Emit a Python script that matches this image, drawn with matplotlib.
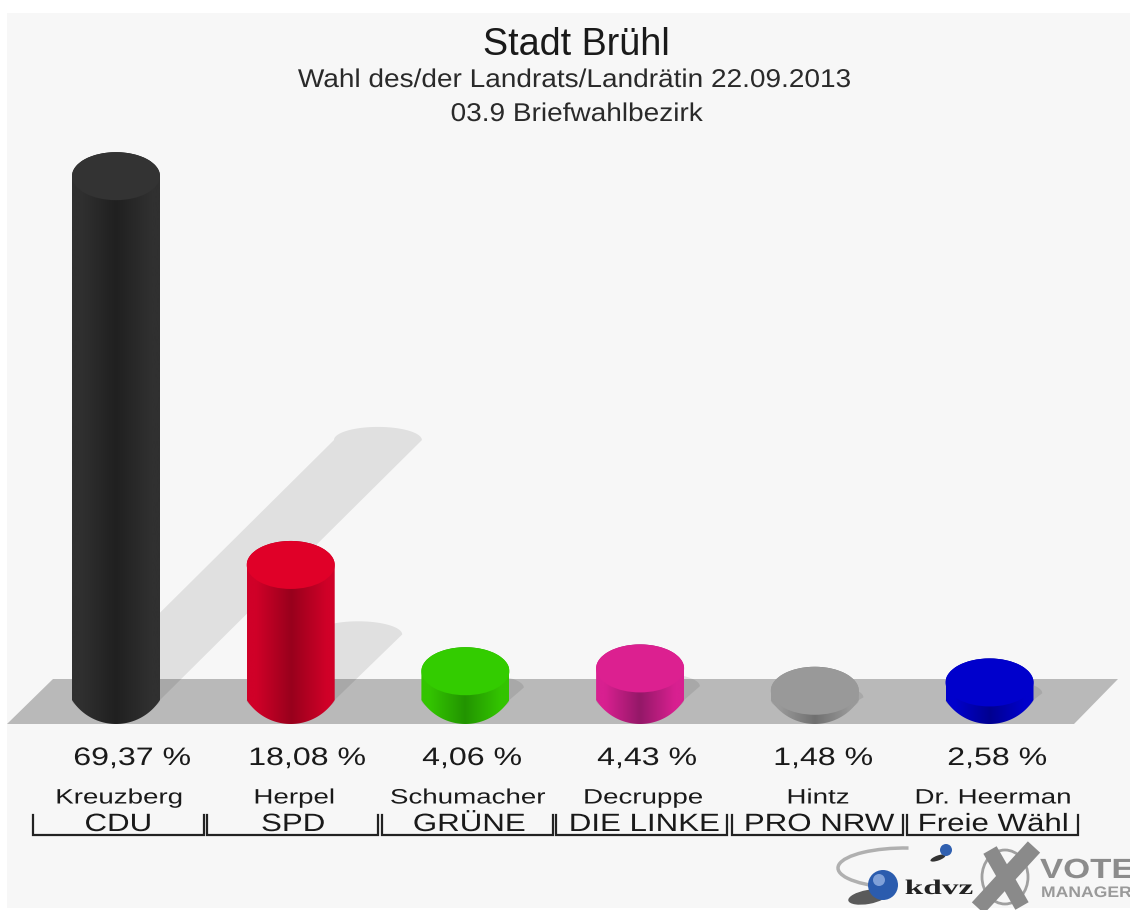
import numpy as np
import matplotlib
matplotlib.use("Agg")
import matplotlib.pyplot as plt
import matplotlib.colors as mcolors
from matplotlib.patches import Polygon, Ellipse, Rectangle, Circle, Arc
from matplotlib.patheffects import AbstractPathEffect
from matplotlib.transforms import Affine2D

plt.rcParams['font.family'] = ['Liberation Sans', 'DejaVu Sans']

# ---- data ----
title = "Stadt Brühl"
subtitle = "Wahl des/der Landrats/Landrätin 22.09.2013"
district = "03.9 Briefwahlbezirk"
candidates = ["Kreuzberg", "Herpel", "Schumacher", "Decruppe", "Hintz", "Dr. Heerman"]
parties = ["CDU", "SPD", "GRÜNE", "DIE LINKE", "PRO NRW", "Freie Wähl"]
values = [69.37, 18.08, 4.06, 4.43, 1.48, 2.58]
value_labels = ["69,37 %", "18,08 %", "4,06 %", "4,43 %", "1,48 %", "2,58 %"]
cap_colors = ["#333333", "#e00028", "#33cc00", "#dc2090", "#999999", "#0000cc"]
edge_colors = ["#303030", "#d00028", "#33c400", "#d82090", "#999999", "#0000cc"]
dark_colors = ["#202020", "#98001c", "#229400", "#941868", "#707070", "#000090"]

W, H = 1130, 910
PX_PER_PCT = 7.58
PX_PER_CAT = 174.7
X0, Y0 = 116.0, 702.0    # pixel of category 0, value 0
BASE_Y = 700.0           # pixel where the cylinder sides end
RX, RY = 44.0, 24.0      # cylinder radii in pixels


class Stretch(AbstractPathEffect):
    """Widen a text horizontally; the reference's text is stretched."""
    def __init__(self, sx, center=True):
        super().__init__()
        self.sx, self.center = sx, center

    def draw_path(self, renderer, gc, tpath, affine, rgbFace=None):
        c = 0.0
        if self.center and len(tpath.vertices):
            v = tpath.vertices[:, 0]
            c = (v.min() + v.max()) / 2
        a = Affine2D().translate(-c, 0).scale(self.sx, 1).translate(c, 0) + affine
        renderer.draw_path(gc, tpath, a, rgbFace)


fig = plt.figure(figsize=(W / 100, H / 100), dpi=100, facecolor="white")

pg = fig.add_axes([0, 0, 1, 1], zorder=0)
pg.set_xlim(0, W); pg.set_ylim(H, 0); pg.axis("off")
pg.add_patch(Rectangle((7, 13), W - 7, 895, fc="#f7f7f7", ec="none"))
pg.add_patch(Polygon([(7, 724), (53, 679), (1118, 679), (1074, 724)], fc="#b9b9b9", ec="none"))

ax = fig.add_axes([0, 0, 1, 1], zorder=1)
ax.patch.set_alpha(0)
xlim = (-X0 / PX_PER_CAT, (W - X0) / PX_PER_CAT)
ylim = (-(H - Y0) / PX_PER_PCT, Y0 / PX_PER_PCT)
ax.axis("off")
rx, ry = RX / PX_PER_CAT, RY / PX_PER_PCT
base = (Y0 - BASE_Y) / PX_PER_PCT
t = np.linspace(0, np.pi, 60)
# lens-shaped lower edge of a cylinder, as a circular arc through the side ends
R = (RX ** 2 + RY ** 2) / (2 * RY)
a_lim = np.arcsin(RX / R)
a_arc = np.linspace(-a_lim, a_lim, 60)
arc_x = R * np.sin(a_arc) / PX_PER_CAT
arc_y = -(R * np.cos(a_arc) - (R - RY)) / PX_PER_PCT

# shadows
for i, v in enumerate(values):
    h = v - base
    dx = (h * PX_PER_PCT / 2) / PX_PER_CAT
    dy = h / 2 - 2 / PX_PER_PCT
    sry = ry * 0.55
    th = np.linspace(0, np.pi, 40)
    xs = np.concatenate([i + dx + rx * np.cos(th), i + rx * np.cos(th + np.pi)])
    ys = np.concatenate([base + dy + sry * np.sin(th), base + sry * np.sin(th + np.pi)])
    ax.add_patch(Polygon(np.c_[xs, ys], fc="black", alpha=0.09, ec="none", zorder=1))

# cylinders
for i, v in enumerate(values):
    xs = np.concatenate([i + rx * np.cos(t), i + arc_x])
    ys = np.concatenate([v + ry * np.sin(t), base + arc_y])
    body = Polygon(np.c_[xs, ys], closed=True, fc="none", ec="none", transform=ax.transData)
    ax.add_patch(body)
    e = np.array(mcolors.to_rgb(edge_colors[i]))
    d = np.array(mcolors.to_rgb(dark_colors[i]))
    g = np.clip(np.abs(np.linspace(-1, 1, 200)) / 0.8, 0, 1)
    grad = (d[None, :] + (e - d)[None, :] * g[:, None])[None, :, :]
    im = ax.imshow(grad, extent=(i - rx, i + rx, base - ry, v + ry), aspect="auto", zorder=2, interpolation="bilinear")
    im.set_clip_path(body)
    ax.add_patch(Ellipse((i, v), 2 * rx, 2 * ry, fc=cap_colors[i], ec="none", zorder=3))

ax.set_xlim(*xlim)
ax.set_ylim(*ylim)

tx = fig.add_axes([0, 0, 1, 1], zorder=2)
tx.set_xlim(0, W); tx.set_ylim(H, 0); tx.axis("off"); tx.patch.set_alpha(0)
tc = "#1a1a1a"


def put(x, y, s, size, sx=1.0, ha="center", **kw):
    kw.setdefault("color", tc)
    o = tx.text(x, y, s, ha=ha, va="center", fontsize=size, **kw)
    if sx != 1.0:
        o.set_path_effects([Stretch(sx, center=(ha == "center"))])
    return o


put(576, 45, title, 27.2)
put(575, 80, subtitle, 18.5, 1.09, color="#2a2a2a")
put(577, 114, district, 18.5, 1.09, color="#2a2a2a")

label_x = [132, 307, 472, 647, 823, 997]
name_x = [119, 294, 468, 643, 818, 993]
party_x = [118, 293, 469, 644, 819, 993]
bracket_x = [33, 207, 382, 556, 732, 907]
for i in range(6):
    put(label_x[i], 758, value_labels[i], 18.2, 1.27)
    put(name_x[i], 798, candidates[i], 15, 1.33)
    put(party_x[i], 824, parties[i], 18, 1.25)
    b = bracket_x[i]
    tx.plot([b, b, b + 171, b + 171], [815, 835, 835, 815], color="#222222", lw=1.6, solid_joinstyle="miter")

# logo
tx.add_patch(Arc((905, 868), 134, 40, theta1=135, theta2=280, color="#b0b0b0", lw=2.5))
tx.add_patch(Ellipse((868, 897), 40, 14, fc="#333333", ec="none", alpha=0.8, angle=-10))
tx.add_patch(Circle((883, 885), 15, fc="#2b5cae", ec="none"))
tx.add_patch(Circle((879, 880), 6, fc="#7fa0d8", ec="none"))
tx.add_patch(Ellipse((938, 858), 16, 5, fc="#333333", ec="none", angle=-20))
tx.add_patch(Circle((946, 850), 6, fc="#3060b0", ec="none"))
put(939, 889, "kdvz", 15, 1.6, fontweight="bold", family="Liberation Serif", color="#222222")
tx.add_patch(Ellipse((1005, 877), 46, 54, fc="none", ec="#a0a0a0", lw=2))
tx.plot([990, 1022], [850, 906], color="#8a8a8a", lw=11, solid_capstyle="butt")
tx.plot([1034, 978], [847, 908], color="#8a8a8a", lw=12, solid_capstyle="butt")
put(1040, 871, "VOTE", 20, 1.25, ha="left", fontweight="bold", color="#8c8c8c")
put(1041, 893, "MANAGER", 11, 1.15, ha="left", fontweight="bold", color="#9a9a9a")

fig.savefig("out.png", dpi=100, facecolor="white")
